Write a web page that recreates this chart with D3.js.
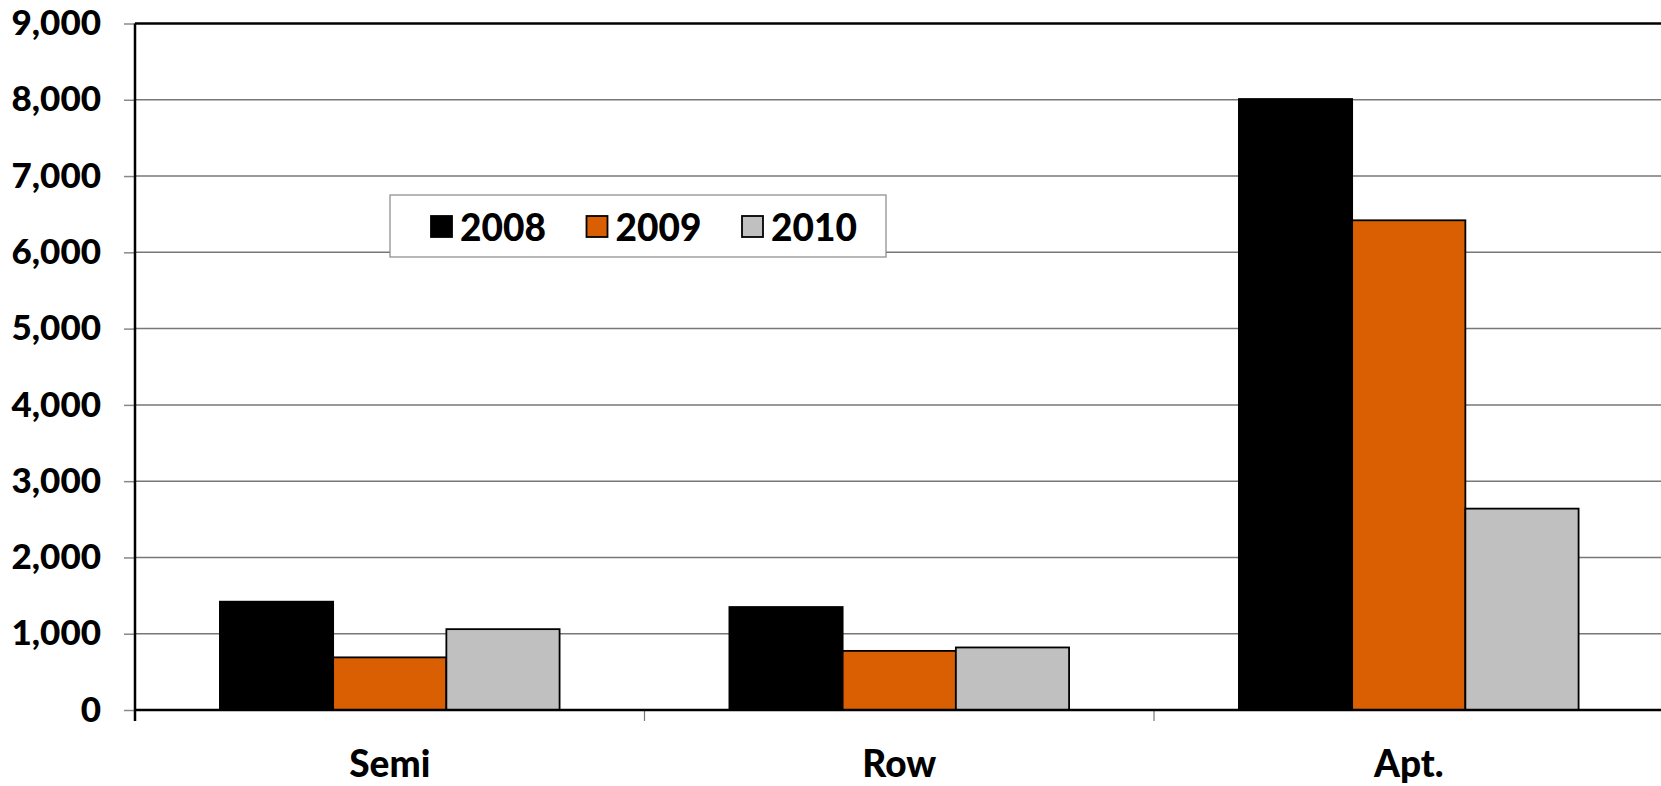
<!DOCTYPE html>
<html>
<head>
<meta charset="utf-8">
<script src="https://cdn.jsdelivr.net/npm/d3@7"></script>
<style>
    body { margin: 0; background: #fff; }
    text { font-family: Lato, "Open Sans", sans-serif; font-weight: 900; fill: #000; }
</style>
</head>
<body>
<div class="chart"></div>
<script>
const categories = ["Semi", "Row", "Apt."];
const years = ["2008", "2009", "2010"];
const values2008 = [1420, 1350, 8010];
const values2009 = [690, 775, 6420];
const values2010 = [1060, 820, 2640];
const yTickValues = [0, 1000, 2000, 3000, 4000, 5000, 6000, 7000, 8000, 9000];
const colors = ["#000000", "#d95f02", "#c0c0c0"];

const seriesValues = [values2008, values2009, values2010];

const width = 1661;
const height = 786;
const plotLeft = 135;
const plotRight = 1663.5;
const plotTop = 23.5;
const plotBottom = 710;

const svg = d3.select(".chart")
.append("svg")
.attr("width", width)
.attr("height", height);

const x0 = d3.scaleBand()
.domain(categories)
.range([plotLeft, plotRight])
.padding(0);

const x1 = d3.scaleBand()
.domain(years)
.range([0, x0.bandwidth()])
.paddingInner(0)
.paddingOuter(0.75);

const y = d3.scaleLinear()
.domain([0, 9000])
.range([plotBottom, plotTop]);

// gridlines
svg.append("g")
.selectAll("line")
.data(yTickValues.filter(d => d > 0 && d < 9000))
.enter()
.append("line")
.attr("x1", plotLeft)
.attr("x2", width)
.attr("y1", d => y(d))
.attr("y2", d => y(d))
.attr("stroke", "#777")
.attr("stroke-width", 1.5);

// y axis with ticks and labels
const yAxis = svg.append("g")
.attr("transform", `translate(${plotLeft},0)`)
.call(d3.axisLeft(y).tickValues(yTickValues).tickSize(11).tickPadding(23).tickFormat(d3.format(",")));

yAxis.select(".domain").remove();
yAxis.selectAll(".tick line").attr("stroke", "#888").attr("stroke-width", 1.5);
yAxis.selectAll(".tick text")
.attr("font-size", 35)
.attr("font-family", "Lato, sans-serif")
.attr("font-weight", 900)
.attr("fill", "#000");

// bars
const rows = categories.map((c, i) => ({
    category: c,
    bars: years.map((yr, j) => ({ year: yr, value: seriesValues[j][i], color: colors[j] }))
}));

svg.append("g")
.selectAll("g")
.data(rows)
.enter()
.append("g")
.attr("transform", d => `translate(${x0(d.category)},0)`)
.selectAll("rect")
.data(d => d.bars)
.enter()
.append("rect")
.attr("x", d => x1(d.year))
.attr("y", d => y(d.value))
.attr("width", x1.bandwidth())
.attr("height", d => y(0) - y(d.value))
.attr("fill", d => d.color)
.attr("stroke", "#000")
.attr("stroke-width", 1.8);

// x axis ticks at category boundaries
svg.append("g")
.selectAll("line")
.data(categories)
.enter()
.append("line")
.attr("x1", d => x0(d))
.attr("x2", d => x0(d))
.attr("y1", plotBottom)
.attr("y2", plotBottom + 11)
.attr("stroke", "#777")
.attr("stroke-width", 1.2);

// frame lines
svg.append("line")
.attr("x1", plotLeft).attr("x2", width)
.attr("y1", y(9000)).attr("y2", y(9000))
.attr("stroke", "#000").attr("stroke-width", 2.5);

svg.append("line")
.attr("x1", plotLeft).attr("x2", width)
.attr("y1", y(0)).attr("y2", y(0))
.attr("stroke", "#000").attr("stroke-width", 2.5);

svg.append("line")
.attr("x1", plotLeft).attr("x2", plotLeft)
.attr("y1", y(9000)).attr("y2", plotBottom + 11)
.attr("stroke", "#000").attr("stroke-width", 2.5);

// category labels
svg.append("g")
.selectAll("text")
.data(categories)
.enter()
.append("text")
.attr("x", d => x0(d) + x0.bandwidth() / 2)
.attr("y", 777)
.attr("text-anchor", "middle")
.attr("font-size", 37)
.text(d => d);

// legend
const legend = svg.append("g")
.attr("transform", "translate(390,195)");

legend.append("rect")
.attr("width", 496)
.attr("height", 62)
.attr("fill", "#fff")
.attr("stroke", "#888")
.attr("stroke-width", 1.2);

const legendItems = legend.selectAll("g.item")
.data(years)
.enter()
.append("g")
.attr("class", "item")
.attr("transform", (d, i) => `translate(${41 + i * 155.5},21)`);

legendItems.append("rect")
.attr("width", 21)
.attr("height", 21)
.attr("fill", (d, i) => colors[i])
.attr("stroke", "#000")
.attr("stroke-width", 1.8);

legendItems.append("text")
.attr("x", 29)
.attr("y", 25)
.attr("font-size", 37)
.text(d => d);
</script>
</body>
</html>
